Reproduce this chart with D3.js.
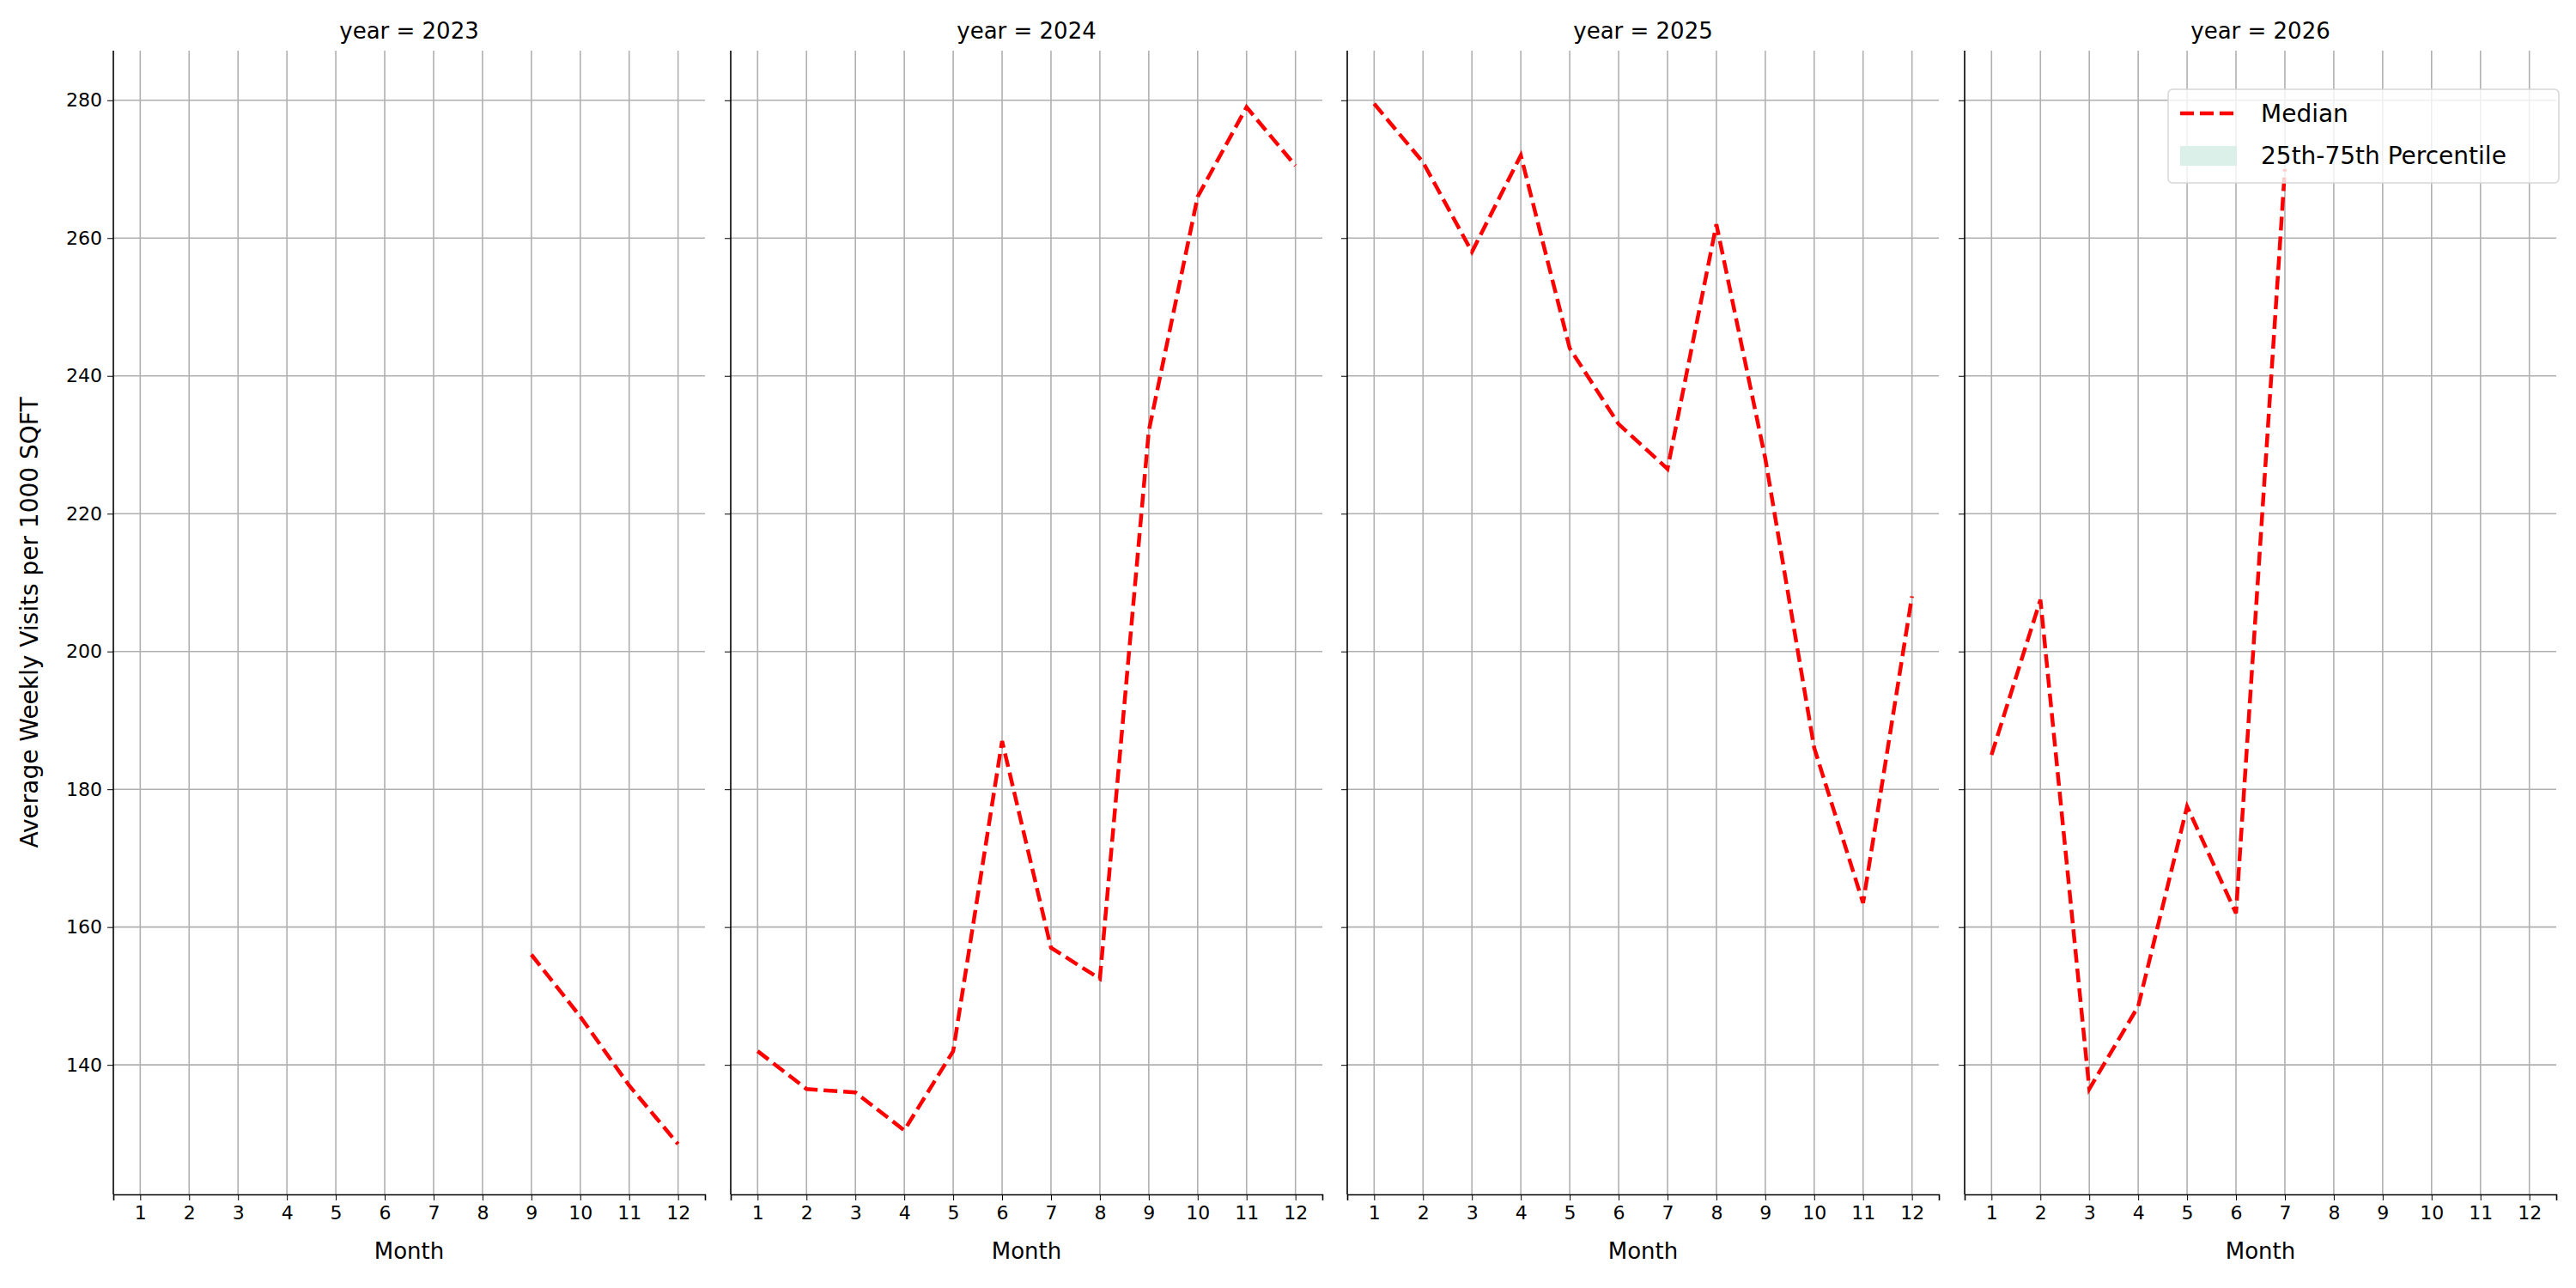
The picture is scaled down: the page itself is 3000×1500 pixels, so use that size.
<!DOCTYPE html>
<html><head><meta charset="utf-8">
<script src="https://cdn.jsdelivr.net/npm/d3@7"></script>
<style>body{margin:0;background:#fff}text{font-family:"DejaVu Sans",sans-serif}</style>
</head><body><svg id="chart" width="3000" height="1500"></svg>
<script>
const years = [2023, 2024, 2025, 2026];
const months = [1,2,3,4,5,6,7,8,9,10,11,12];
const yTicks = [140,160,180,200,220,240,260,280];
const median2023 = [null,null,null,null,null,null,null,null,156,147,137,128.5];
const median2024 = [142,136.5,136,130.5,142,187,157,152.5,232,266,279,270.5];
const median2025 = [279.5,271,258,272,244,233,226.5,262,228,186,163.5,208];
const median2026 = [185,207.5,136.5,148.5,177.5,162,270,null,null,null,null,null];
const medians = [median2023, median2024, median2025, median2026];

const svg = d3.select("#chart");
const panelLeft = [132, 851, 1569, 2288], panelW = 689, plotTop = 59, plotBottom = 1391;

const y = d3.scaleLinear().domain([121.2, 287.2]).range([plotBottom, plotTop]);

years.forEach((yr, i) => {
  const x = d3.scaleLinear().domain([0.45, 12.55]).range([panelLeft[i], panelLeft[i] + panelW]);
  const g = svg.append("g");

  // grid
  g.selectAll(".vg").data(months).join("line")
    .attr("x1", d => x(d)).attr("x2", d => x(d)).attr("y1", plotTop).attr("y2", plotBottom)
    .attr("stroke", "#b0b0b0").attr("stroke-width", 1.6);
  g.selectAll(".hg").data(yTicks).join("line")
    .attr("x1", panelLeft[i]).attr("x2", panelLeft[i] + panelW).attr("y1", d => y(d)).attr("y2", d => y(d))
    .attr("stroke", "#b0b0b0").attr("stroke-width", 1.6);

  const xa = g.append("g").attr("transform", `translate(0,${plotBottom})`)
    .call(d3.axisBottom(x).tickValues(months).tickSize(7).tickPadding(6));
  xa.select(".domain").attr("stroke", "#000").attr("stroke-width", 1.6);
  xa.selectAll("text").attr("font-size", 22).attr("fill", "#000");

  const ya = g.append("g").attr("transform", `translate(${panelLeft[i]},0)`)
    .call(d3.axisLeft(y).tickValues(yTicks).tickSize(7).tickPadding(6).tickFormat(i === 0 ? d3.format("d") : ""));
  ya.select(".domain").attr("d", `M0,${plotTop}V${plotBottom}`).attr("stroke", "#000").attr("stroke-width", 1.6);
  ya.selectAll("text").attr("font-size", 22).attr("fill", "#000");

  g.append("text").attr("x", panelLeft[i] + panelW / 2).attr("y", 1466).attr("text-anchor", "middle")
    .attr("font-size", 26).text("Month");
  g.append("text").attr("x", panelLeft[i] + panelW / 2).attr("y", 45).attr("text-anchor", "middle")
    .attr("font-size", 26).text(`year = ${yr}`);

  const line = d3.line().defined(d => d[1] != null).x(d => x(d[0])).y(d => y(d[1]));
  g.append("path").datum(months.map((m, k) => [m, medians[i][k]]))
    .attr("d", line).attr("fill", "none").attr("stroke", "red").attr("stroke-width", 4.5)
    .attr("stroke-dasharray", "16,7");
});

svg.append("text").attr("transform", "translate(44,725) rotate(-90)").attr("text-anchor", "middle")
  .attr("font-size", 28).text("Average Weekly Visits per 1000 SQFT");

// legend
const lg = svg.append("g").attr("transform", "translate(2525,104)");
lg.append("rect").attr("width", 455).attr("height", 109).attr("rx", 5)
  .attr("fill", "rgba(255,255,255,0.8)").attr("stroke", "#d6d6d6").attr("stroke-width", 1.5);
lg.append("line").attr("x1", 14).attr("x2", 80).attr("y1", 28).attr("y2", 28)
  .attr("stroke", "red").attr("stroke-width", 4.5).attr("stroke-dasharray", "16,7");
lg.append("rect").attr("x", 14).attr("y", 66).attr("width", 66).attr("height", 23).attr("fill", "#dcf0ea");
lg.append("text").attr("x", 108).attr("y", 38).attr("font-size", 28).text("Median");
lg.append("text").attr("x", 108).attr("y", 87).attr("font-size", 28).text("25th-75th Percentile");
</script></body></html>
